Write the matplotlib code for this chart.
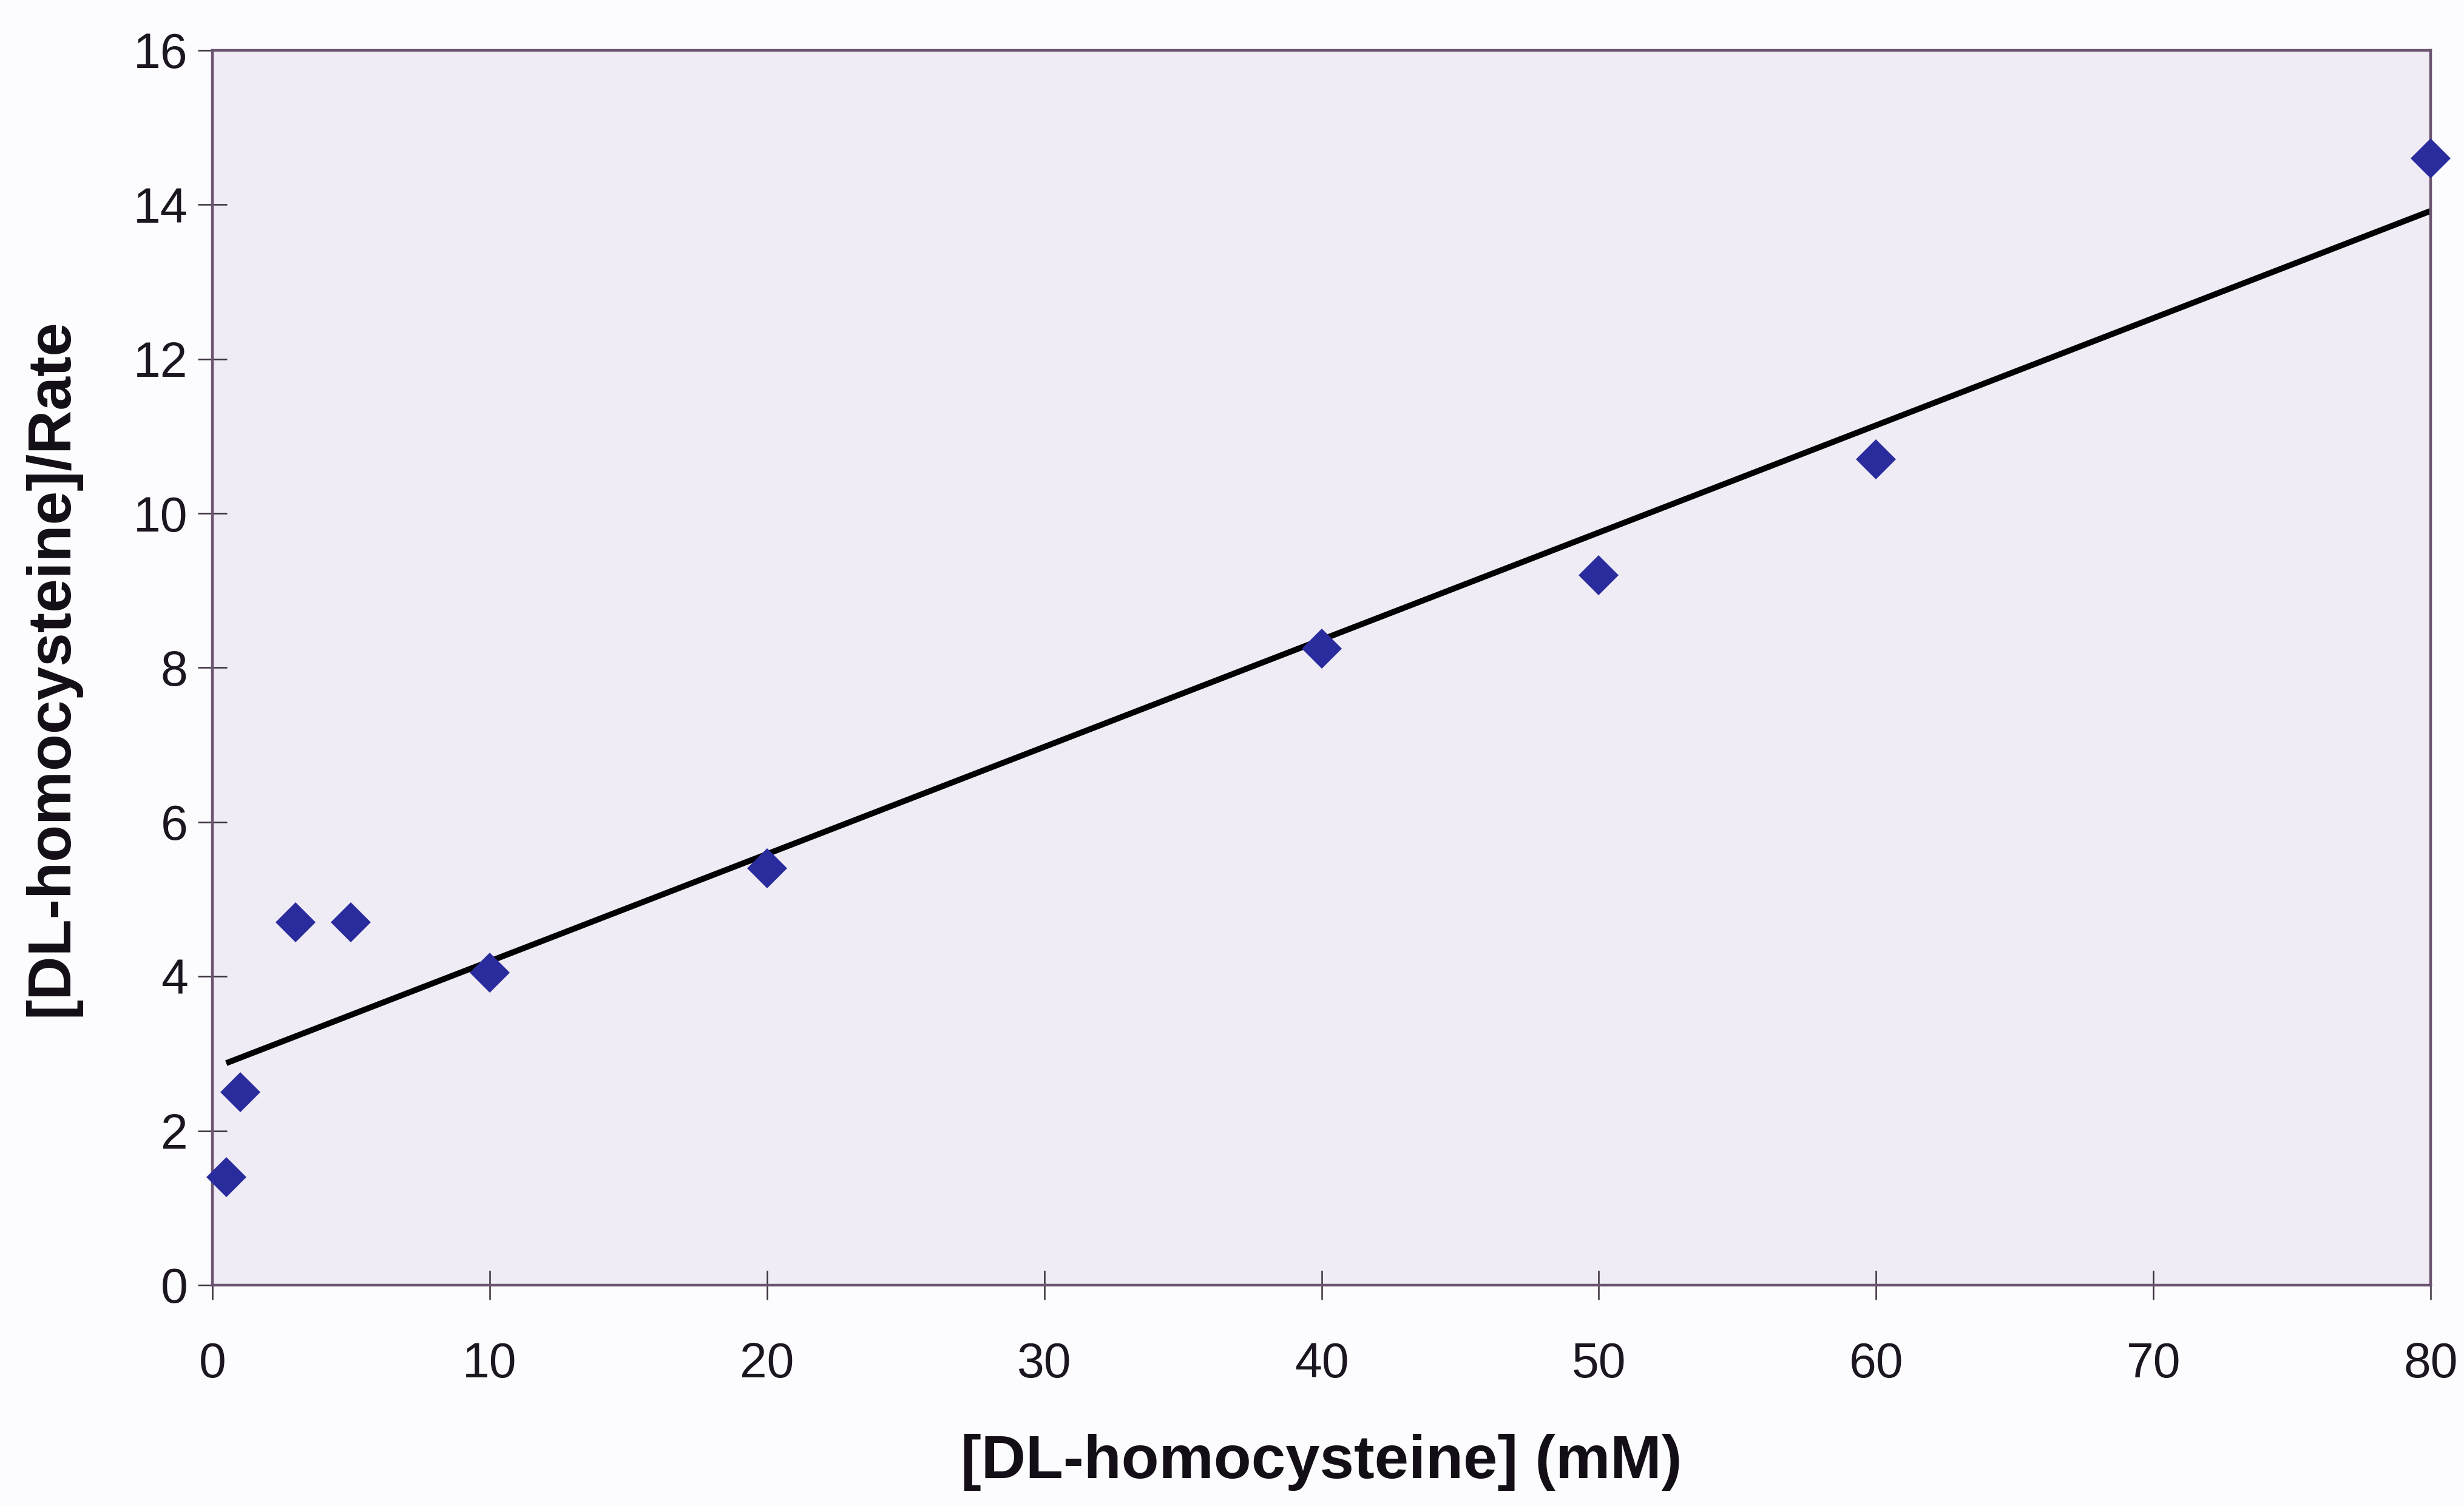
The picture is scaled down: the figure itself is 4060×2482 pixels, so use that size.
import numpy as np
import matplotlib
matplotlib.use("Agg")
import matplotlib.pyplot as plt

# Hanes-Woolf style plot: [S]/v against [S] for DL-homocysteine
conc_mM = [0.5, 1, 3, 5, 10, 20, 40, 50, 60, 80]
conc_over_rate = [1.4, 2.5, 4.7, 4.7, 4.05, 5.4, 8.25, 9.2, 10.7, 14.6]
x_ticks = [0, 10, 20, 30, 40, 50, 60, 70, 80]
y_ticks = [0, 2, 4, 6, 8, 10, 12, 14, 16]

plt.rcParams["font.family"] = ["Liberation Sans", "DejaVu Sans"]

fig = plt.figure(figsize=(40.6, 24.82), dpi=100, facecolor="#fcfbfd")
ax = fig.add_axes([0.0862, 0.1467, 0.9003, 0.8199])
ax.set_facecolor("#f0ecf5")

x = np.array(conc_mM)
y = np.array(conc_over_rate)

# least-squares trend line over the measured range
slope, intercept = np.polyfit(x, y, 1)
xl = np.array([x.min(), x.max()])
ax.plot(xl, slope * xl + intercept, color="black", lw=7,
        solid_capstyle="butt", zorder=2)

ax.plot(x, y, linestyle="none", marker="D", markersize=34,
        markerfacecolor="#2a2c9e", markeredgewidth=0, zorder=3,
        clip_on=False)

ax.set_xlim(0, 80)
ax.set_ylim(0, 16)
ax.set_xticks(x_ticks)
ax.set_yticks(y_ticks)

spine_color = "#6a5470"
for side in ("left", "right", "top", "bottom"):
    ax.spines[side].set_color(spine_color)
    ax.spines[side].set_linewidth(3.2)

ax.tick_params(axis="both", direction="inout", length=34, width=1.8,
               color="#3a2f3e", labelsize=58, labelcolor="#1c1620")
ax.tick_params(axis="x", pad=50)
ax.tick_params(axis="y", pad=12)

ax.set_xlabel("[DL-homocysteine] (mM)", fontsize=73, fontweight="bold",
              color="#140f16", va="center")
ax.xaxis.set_label_coords(0.5, -0.1435)
ax.set_ylabel("[DL-homocysteine]/Rate", fontsize=72, fontweight="bold",
              color="#140f16", va="center")
ax.yaxis.set_label_coords(-0.0725, 0.5)

fig.savefig("out.png", dpi=100, facecolor=fig.get_facecolor())
